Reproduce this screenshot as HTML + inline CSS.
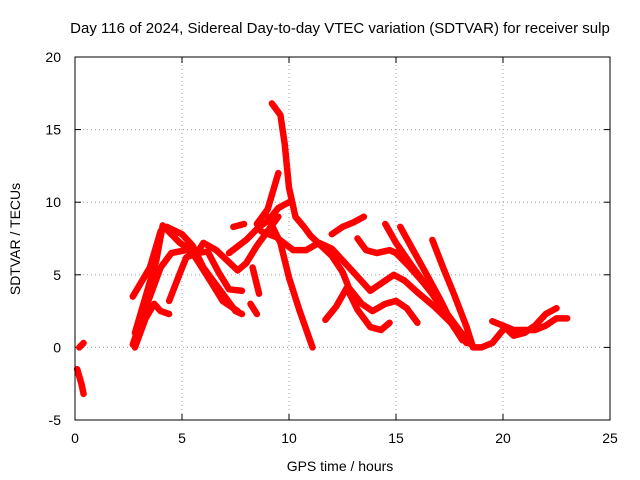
<!DOCTYPE html>
<html><head><meta charset="utf-8"><style>
body{margin:0;background:#fff;}
svg{display:block;font-family:"Liberation Sans",sans-serif;}
</style></head><body>
<svg id="chart" width="640" height="480">
<rect width="640" height="480" fill="#fff"/>
<text x="340" y="33" font-size="15" text-anchor="middle">Day 116 of 2024, Sidereal Day-to-day VTEC variation (SDTVAR) for receiver sulp</text>
<text x="340" y="471" font-size="14" text-anchor="middle">GPS time / hours</text>
<text transform="translate(20,239) rotate(-90)" font-size="14" text-anchor="middle">SDTVAR / TECUs</text>
<g id="grid"></g><g id="ticks"></g><g id="series"></g>
<rect x="75" y="57" width="535" height="363" fill="none" stroke="#000"/>
</svg>
<script>
const xTicks=[0,5,10,15,20,25];
const yTicks=[-5,0,5,10,15,20];
const trackA=[[2.7,3.5],[3.5,5.5],[4,8],[4.3,8.3],[5,7.8],[5.5,7],[6,5.5],[6.5,4.5],[7,3.5],[7.5,2.5],[7.8,2.3]];
const trackB=[[2.7,0.2],[3,1.5],[3.5,3.5],[4,5.5],[4.5,6.5],[5.2,6.7],[5.7,6.5],[6,7.2],[6.6,6.7],[7.1,6],[7.6,5.3],[8,5.8],[8.5,7],[9,8],[9.5,9]];
const trackC=[[2.8,0],[3.3,2],[3.7,3],[4,2.5],[4.4,2.3]];
const trackD=[[2.8,1],[3.3,3.5],[3.8,6],[4.1,8.4],[4.9,7.2],[5.4,6.7],[5.8,5.8],[6.4,4.4],[6.9,3.2],[7.6,2.5]];
const trackE=[[9.2,16.8],[9.6,16],[9.8,14],[10,11],[10.3,9],[10.7,8.3],[11,7.7],[11.5,7],[12,6.3],[12.5,5.2],[12.8,4.1],[13.4,3],[13.9,2.5],[14.5,3],[15,3.2],[15.5,2.7],[16,1.7]];
const trackF=[[8.5,8.5],[9,9.5],[9.5,12]];
const trackG=[[9,9],[9.6,7.2],[10,4.8],[10.5,2.5],[11.1,0]];
const trackH=[[8.7,8],[9.4,7.6],[10.2,6.7],[10.8,6.7],[11.4,7.2],[12,6.8],[12.5,6],[13,5.2],[13.8,3.9],[14.4,4.5],[14.9,5.0],[15.4,4.6],[16,3.8],[16.8,2.8],[17.5,1.8],[18.2,0.6]];
const trackI=[[11.7,1.9],[12.2,2.8],[12.7,4.1],[13.2,2.6],[13.8,1.4],[14.3,1.2],[14.7,1.7]];
const trackJ=[[12,7.8],[12.5,8.3],[13,8.6],[13.5,9]];
const trackK=[[13.2,7.5],[13.6,6.7],[14.1,6.5],[14.7,6.7],[15,6.5],[15.6,5.6],[16.2,4.6],[16.8,3.5],[17.4,2.3],[18,1.1],[18.5,0.2]];
const trackL=[[14.5,8.5],[15,7.2],[15.8,5.5],[16.6,3.9],[17.4,2.1],[18.1,0.5]];
const trackM=[[16.7,7.4],[17.2,5.5],[17.7,3.7],[18.3,1.4],[18.6,0],[19,0],[19.5,0.3],[20,1.2]];
const trackN=[[15.2,8.3],[15.8,6.7],[16.4,5.1],[17.1,3.2],[17.7,1.4],[18.3,0.3]];
const trackO=[[19.5,1.8],[20,1.5],[20.5,0.8],[21,1],[21.5,1.5],[22,2.3],[22.5,2.7]];
const trackP=[[20,1.5],[20.5,1.2],[21,1.2],[21.5,1.2],[22,1.5],[22.5,2],[23,2]];
const trackQ=[[4.4,3.2],[4.9,5.1],[5.2,6.2],[5.7,6.5],[6.2,6.6],[6.7,5.2],[7.2,4],[7.8,3.9]];
const trackR=[[7.2,6.5],[8,7.4],[8.6,8.3],[9,8.7],[9.5,9.6],[10,10]];
const trackS=[[7.4,8.3],[7.9,8.5]];
const trackT=[[8.3,5.5],[8.6,3.7]];
const trackU=[[8.2,3],[8.5,2.3]];
const trackV=[[0.2,0],[0.4,0.3]];
const trackW=[[0.1,-1.5],[0.3,-2.5],[0.4,-3.2]];
const tracks=[trackA,trackB,trackC,trackD,trackE,trackF,trackG,trackH,trackI,trackJ,trackK,trackL,trackM,trackN,trackO,trackP,trackQ,trackR,trackS,trackT,trackU,trackV,trackW];
const NS="http://www.w3.org/2000/svg";
function sx(v){return 75+(v-0)/25*535;}
function sy(v){return 420-(v+5)/25*363;}
function mk(t,a){const e=document.createElementNS(NS,t);for(const k in a)e.setAttribute(k,a[k]);return e;}
const grid=document.getElementById('grid'),ticks=document.getElementById('ticks'),ser=document.getElementById('series');
xTicks.forEach(v=>{const x=sx(v);
 if(v>0&&v<25){const g=mk('line',{x1:x,x2:x,y1:57,y2:420,stroke:'#a0a0a0','stroke-dasharray':'1,3'});grid.appendChild(g);}
 ticks.appendChild(mk('line',{x1:x,x2:x,y1:420,y2:414,stroke:'#000'}));
 ticks.appendChild(mk('line',{x1:x,x2:x,y1:57,y2:63,stroke:'#000'}));
 const t=mk('text',{x:x,y:443,'font-size':14,'text-anchor':'middle'});t.textContent=v;
 ticks.appendChild(t);});
yTicks.forEach(v=>{const y=sy(v);
 if(v>-5&&v<20){const g=mk('line',{x1:75,x2:610,y1:y,y2:y,stroke:'#a0a0a0','stroke-dasharray':'1,3'});grid.appendChild(g);}
 ticks.appendChild(mk('line',{x1:75,x2:81,y1:y,y2:y,stroke:'#000'}));
 ticks.appendChild(mk('line',{x1:604,x2:610,y1:y,y2:y,stroke:'#000'}));
 const t=mk('text',{x:61,y:y+5,'font-size':14,'text-anchor':'end'});t.textContent=v;
 ticks.appendChild(t);});
tracks.forEach((tr,i)=>{
 const p=mk('polyline',{points:tr.map(d=>sx(d[0])+','+sy(d[1])).join(' '),fill:'none',stroke:'#f00','stroke-width':6.5,'stroke-linejoin':'round','stroke-linecap':'round'});
 
 
 ser.appendChild(p);
});
</script>
</body></html>
